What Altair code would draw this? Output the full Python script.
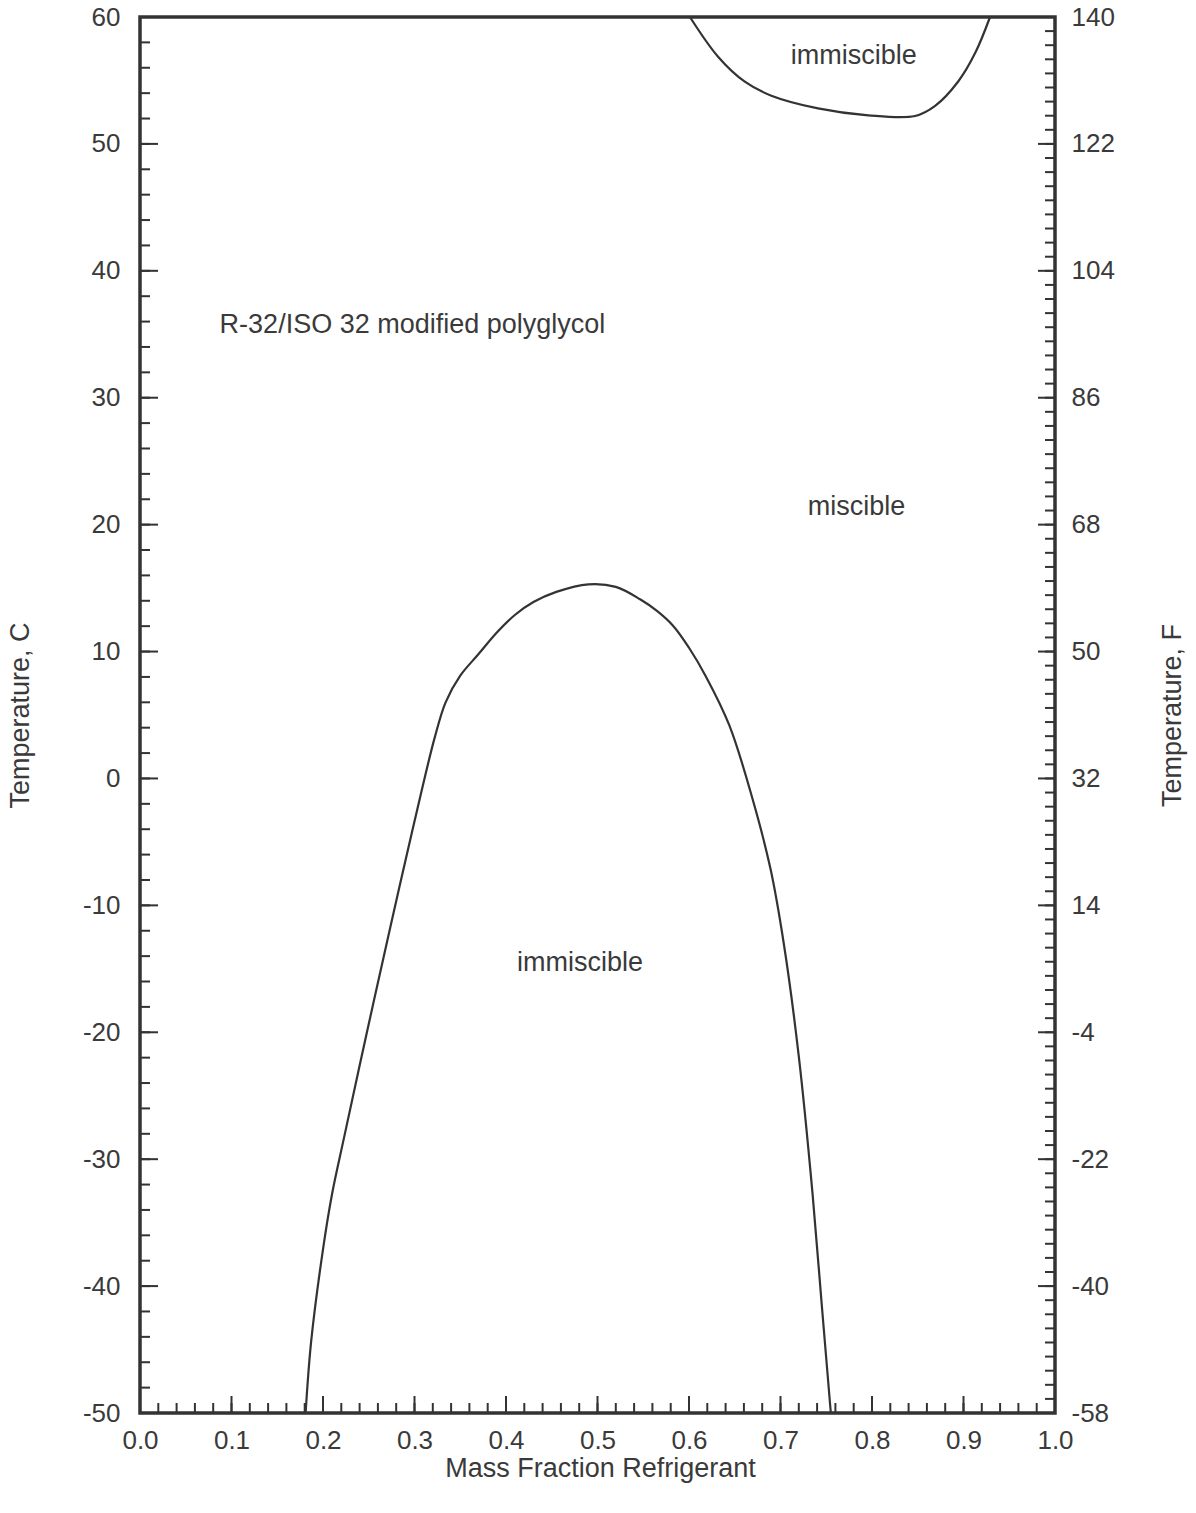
import altair as alt
import pandas as pd

# ---- data ----
# lower immiscibility dome: mass fraction refrigerant vs temperature (C)
dome_x = [0.181, 0.187, 0.200, 0.210, 0.223, 0.248, 0.273, 0.290, 0.309, 0.322,
          0.334, 0.350, 0.370, 0.390, 0.410, 0.430, 0.455, 0.490, 0.520, 0.547,
          0.565, 0.583, 0.600, 0.618, 0.644, 0.669, 0.689, 0.704, 0.720, 0.735,
          0.745, 0.755]
dome_t = [-50, -44.4, -37.1, -32.7, -28.3, -20.0, -11.9, -6.5, -0.6, 3.2,
          6.0, 8.1, 9.8, 11.5, 12.9, 13.9, 14.7, 15.3, 15.1, 14.1,
          13.2, 12.0, 10.3, 8.1, 4.2, -1.5, -7.1, -13.2, -21.9, -32.7,
          -41.4, -50]

# upper immiscibility region
top_x = [0.601, 0.632, 0.661, 0.690, 0.741, 0.796, 0.847, 0.869, 0.894, 0.913, 0.929]
top_t = [60, 56.85, 54.9, 53.8, 52.8, 52.25, 52.2, 53.0, 54.9, 57.2, 60]

# annotations
ann_text = ["immiscible", "miscible", "immiscible"]
ann_x = [0.780, 0.783, 0.481]
ann_t = [56.9, 21.4, -14.55]
note_text = ["R-32/ISO 32 modified polyglycol"]
note_x = [0.087]
note_t = [35.7]

# axes
x_major = [0.0, 0.1, 0.2, 0.3, 0.4, 0.5, 0.6, 0.7, 0.8, 0.9, 1.0]
x_minor = [round(i * 0.02, 2) for i in range(51)]
c_major = [-50, -40, -30, -20, -10, 0, 10, 20, 30, 40, 50, 60]
c_minor = list(range(-50, 61, 2))
f_major = [-58, -40, -22, -4, 14, 32, 50, 68, 86, 104, 122, 140]
f_minor = list(range(-58, 141, 2))

# ---- chart ----
W, H = 915, 1396
INK = "#333333"
TXT = "#3a3a3a"
FONT = "Liberation Sans"

xs = alt.Scale(domain=[0, 1], nice=False, zero=False)
cs = alt.Scale(domain=[-50, 60], nice=False, zero=False)
fs = alt.Scale(domain=[-58, 140], nice=False, zero=False)

curve_df = pd.concat([
    pd.DataFrame({"x": dome_x, "t": dome_t, "curve": "dome", "i": range(len(dome_x))}),
    pd.DataFrame({"x": top_x, "t": top_t, "curve": "top", "i": range(len(top_x))}),
])

PLAIN = "'' + datum.value"

curves = alt.Chart(curve_df).mark_line(
    color=INK, strokeWidth=2.2, interpolate="catmull-rom"
).encode(
    x=alt.X("x:Q", scale=xs, axis=alt.Axis(
        orient="bottom", values=x_major, format=".1f", ticks=False, domain=False,
        grid=False, labelFontSize=26, labelPadding=14, labelFlush=False,
        labelOverlap=False, labelColor=TXT, labelFont=FONT,
        title="Mass Fraction Refrigerant", titleFontSize=27, titleFontWeight="normal",
        titleFont=FONT, titleColor=TXT, titleX=460, titleY=55,
        titleBaseline="middle", titleAlign="center")),
    y=alt.Y("t:Q", scale=cs, axis=alt.Axis(
        orient="left", values=c_major, labelExpr=PLAIN, ticks=False, domain=False,
        grid=False, labelFontSize=26, labelPadding=20, labelFlush=False,
        labelOverlap=False, labelColor=TXT, labelFont=FONT,
        title="Temperature, C", titleFontSize=27, titleFontWeight="normal",
        titleFont=FONT, titleColor=TXT, titleX=-120, titleY=698,
        titleAngle=270, titleBaseline="middle", titleAlign="center")),
    detail="curve:N",
    order="i:Q",
)

right_axis = alt.Chart(pd.DataFrame({"f": f_major})).mark_point(opacity=0).encode(
    y=alt.Y("f:Q", scale=fs, axis=alt.Axis(
        orient="right", values=f_major, labelExpr=PLAIN, ticks=False, domain=False,
        grid=False, labelFontSize=26, labelPadding=16, labelFlush=False,
        labelOverlap=False, labelColor=TXT, labelFont=FONT,
        title="Temperature, F", titleFontSize=27, titleFontWeight="normal",
        titleFont=FONT, titleColor=TXT, titleX=117, titleY=698,
        titleAngle=270, titleBaseline="middle", titleAlign="center")),
)

ann = alt.Chart(pd.DataFrame({"x": ann_x, "t": ann_t, "label": ann_text})).mark_text(
    font=FONT, fontSize=27, color=TXT, align="center", baseline="middle"
).encode(
    x=alt.X("x:Q", scale=xs, axis=None),
    y=alt.Y("t:Q", scale=cs, axis=None),
    text="label:N",
)

note = alt.Chart(pd.DataFrame({"x": note_x, "t": note_t, "label": note_text})).mark_text(
    font=FONT, fontSize=27, color=TXT, align="left", baseline="middle"
).encode(
    x=alt.X("x:Q", scale=xs, axis=None),
    y=alt.Y("t:Q", scale=cs, axis=None),
    text="label:N",
)


def yticks(vals, field, scale, x0, x1):
    return alt.Chart(pd.DataFrame({field: vals})).mark_rule(
        color=INK, strokeWidth=2
    ).encode(
        y=alt.Y(f"{field}:Q", scale=scale, axis=None),
        x=alt.value(x0), x2=alt.value(x1),
    )


def xticks(vals, y0, y1):
    return alt.Chart(pd.DataFrame({"x": vals})).mark_rule(
        color=INK, strokeWidth=2
    ).encode(
        x=alt.X("x:Q", scale=xs, axis=None),
        y=alt.value(y0), y2=alt.value(y1),
    )


layers = [
    yticks(c_minor, "t", cs, 0, 10),
    yticks(c_major, "t", cs, 0, 18),
    yticks(f_minor, "f", fs, W, W - 10),
    yticks(f_major, "f", fs, W, W - 17),
    xticks(x_minor, H, H - 10),
    xticks(x_major, H, H - 17),
    curves,
    ann,
    note,
    right_axis,
]

chart = alt.layer(*layers).resolve_scale(
    x="independent", y="independent"
).properties(
    width=W, height=H,
    padding={"left": 140, "top": 17, "right": 141, "bottom": 100},
    autosize=alt.AutoSizeParams(type="none"),
    background="white",
).configure_view(
    stroke=INK, strokeWidth=3.5
)

chart.save("out.html", embed_options={"renderer": "svg", "actions": False})
